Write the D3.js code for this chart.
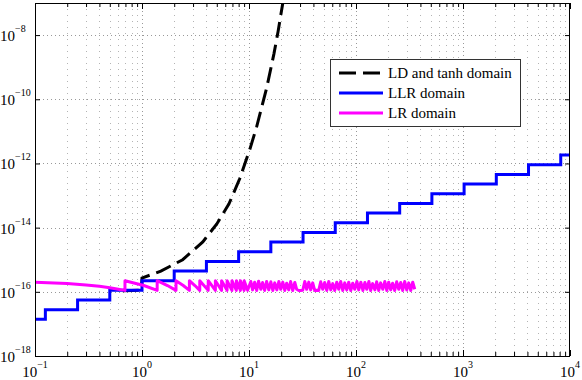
<!DOCTYPE html>
<html>
<head>
<meta charset="utf-8">
<script src="https://cdn.jsdelivr.net/npm/d3@7"></script>
<style>
  body { margin: 0; background: #fff; }
  text { font-family: "Liberation Serif", "DejaVu Serif", serif; }
</style>
</head>
<body>
<script>
// tick positions and their exponent labels
var xTicks = [0.1, 1, 10, 100, 1000, 10000];
var xTickExp = ["\u22121", "0", "1", "2", "3", "4"];
var yTicks = [1e-18, 1e-16, 1e-14, 1e-12, 1e-10, 1e-8];
var yTickExp = ["\u221218", "\u221216", "\u221214", "\u221212", "\u221210", "\u22128"];

var seriesNames = ["LD and tanh domain", "LLR domain", "LR domain"];

// LD and tanh domain (dashed black), [x, error]
var ldPoints = [
    [0.66, 1.08e-16], [0.8, 1.1e-16], [0.99, 1.14e-16], [1.0, 2.7e-16],
    [1.5, 4.4e-16], [2.4, 1.0e-15], [3.7, 3.6e-15], [5.0, 1.3e-14],
    [6.5, 5.5e-14], [8.2, 3.4e-13], [10.2, 2.8e-12], [11.8, 1.4e-11],
    [14.6, 2.2e-10], [17.1, 2.6e-9], [18.7, 1.3e-8], [20.8, 1.1e-7], [22, 4e-7]
];

// LLR domain (blue staircase): step starts and levels
var llrX = [0.1, 0.125, 0.25, 0.5, 1, 2, 4, 8, 16, 32, 64, 128, 256, 512, 1024, 2048, 4096, 8192, 10000];
var llrY = [1.39e-17, 2.78e-17, 5.55e-17, 1.11e-16, 2.22e-16, 4.44e-16, 8.88e-16, 1.78e-15, 3.55e-15,
            7.11e-15, 1.42e-14, 2.84e-14, 5.68e-14, 1.14e-13, 2.27e-13, 4.55e-13, 9.09e-13, 1.82e-12, 1.82e-12];

// LR domain (magenta sawtooth), [x, error]
var lrPoints = [
    [0.1, 2.0e-16], [0.2, 1.81e-16], [0.3, 1.64e-16], [0.4, 1.48e-16], [0.5, 1.34e-16], [0.6, 1.21e-16], [0.693, 1.11e-16],
    [0.693, 2.22e-16], [1.04, 1.57e-16], [1.386, 1.11e-16],
    [1.386, 2.22e-16], [1.73, 1.57e-16], [2.079, 1.11e-16],
    [2.079, 2.22e-16], [2.43, 1.57e-16], [2.773, 1.11e-16],
    [2.773, 2.22e-16], [3.12, 1.57e-16], [3.466, 1.11e-16],
    [3.466, 2.22e-16], [4.159, 1.11e-16],
    [4.159, 2.22e-16], [4.852, 1.11e-16],
    [4.852, 2.22e-16], [5.545, 1.11e-16],
    [5.545, 2.22e-16], [6.238, 1.11e-16],
    [6.238, 2.22e-16], [6.931, 1.11e-16],
    [6.931, 2.22e-16], [7.625, 1.11e-16],
    [7.625, 2.22e-16], [8.318, 1.11e-16],
    [8.318, 2.22e-16], [9.011, 1.11e-16],
    [9.011, 2.22e-16], [9.704, 1.11e-16],
    [10.4, 2.1e-16], [10.8, 1.15e-16], [11.3, 2.0e-16], [11.8, 1.1e-16], [12.3, 2.15e-16],
    [12.9, 1.2e-16], [13.4, 1.95e-16], [14.0, 1.1e-16], [14.6, 2.1e-16], [15.3, 1.15e-16],
    [16.0, 2.05e-16], [16.7, 1.1e-16], [17.4, 1.9e-16], [18.2, 1.15e-16], [19.0, 2.1e-16],
    [19.8, 1.2e-16], [20.7, 2.0e-16], [21.6, 1.1e-16], [22.5, 1.85e-16], [23.5, 1.15e-16],
    [24.5, 2.1e-16], [25.6, 1.1e-16], [26.8, 1.95e-16], [27.9, 1.2e-16], [29.2, 1.1e-16],
    [30.4, 1.1e-16], [31.8, 1.12e-16], [33.2, 2.1e-16], [34.6, 1.2e-16], [36.2, 2.0e-16],
    [37.7, 1.15e-16], [39.4, 1.9e-16], [41.1, 1.1e-16], [42.9, 1.12e-16], [44.8, 1.1e-16],
    [46.8, 2.05e-16], [48.9, 1.2e-16], [51.0, 1.95e-16], [53.3, 1.1e-16], [55.6, 2.1e-16],
    [58.1, 1.15e-16], [60.6, 1.8e-16], [63.3, 1.1e-16], [66.1, 2.0e-16], [69.0, 1.2e-16],
    [72.0, 2.1e-16], [75.2, 1.1e-16], [78.5, 1.9e-16], [81.9, 1.15e-16], [85.5, 2.0e-16],
    [89.3, 1.1e-16], [93.2, 1.85e-16], [97.3, 1.2e-16], [102, 2.1e-16], [106, 1.15e-16],
    [111, 2.0e-16], [116, 1.1e-16], [121, 1.95e-16], [126, 1.2e-16], [132, 2.1e-16],
    [137, 1.1e-16], [143, 1.8e-16], [150, 1.15e-16], [156, 2.05e-16], [163, 1.1e-16],
    [170, 1.9e-16], [178, 1.2e-16], [186, 2.1e-16], [194, 1.1e-16], [202, 2.0e-16],
    [211, 1.15e-16], [220, 1.85e-16], [230, 1.1e-16], [240, 2.05e-16], [251, 1.2e-16],
    [262, 1.95e-16], [273, 1.1e-16], [285, 2.1e-16], [298, 1.15e-16], [311, 1.9e-16],
    [325, 1.1e-16], [339, 2.0e-16], [354, 1.2e-16]
];

var colors = ["#000000", "#0000ff", "#ff00ff"];

var W = 582, H = 380;
var plotLeft = 35, plotRight = 570, plotTop = 3, plotBottom = 356;

var svg = d3.select("body")
    .append("svg")
    .attr("width", W)
    .attr("height", H);

var x = d3.scaleLog().domain([0.1, 10000]).range([plotLeft, plotRight]);
var y = d3.scaleLog().domain([1e-18, 1e-7]).range([plotBottom, plotTop]);

// minor x ticks (2..9 in every decade)
var xMinor = x.ticks().filter(function(v) { return xTicks.indexOf(v) < 0; });

// grid
var grid = svg.append("g");
grid.selectAll("line.vminor")
    .data(xMinor)
    .enter()
    .append("line")
    .attr("x1", function(d) { return Math.round(x(d)) + 0.5; })
    .attr("x2", function(d) { return Math.round(x(d)) + 0.5; })
    .attr("y1", plotTop)
    .attr("y2", plotBottom)
    .attr("stroke", "#b4b4b4")
    .attr("stroke-width", 1)
    .attr("stroke-dasharray", "1,5");
grid.selectAll("line.vmajor")
    .data(xTicks.slice(1, -1))
    .enter()
    .append("line")
    .attr("x1", function(d) { return Math.round(x(d)) + 0.5; })
    .attr("x2", function(d) { return Math.round(x(d)) + 0.5; })
    .attr("y1", plotTop)
    .attr("y2", plotBottom)
    .attr("stroke", "#999")
    .attr("stroke-width", 1)
    .attr("stroke-dasharray", "1,3");
grid.selectAll("line.hmajor")
    .data(yTicks.slice(1))
    .enter()
    .append("line")
    .attr("x1", plotLeft)
    .attr("x2", plotRight)
    .attr("y1", function(d) { return Math.round(y(d)) + 0.5; })
    .attr("y2", function(d) { return Math.round(y(d)) + 0.5; })
    .attr("stroke", "#999")
    .attr("stroke-width", 1)
    .attr("stroke-dasharray", "1,3");

// clip for the data lines
svg.append("clipPath")
    .attr("id", "plot")
    .append("rect")
    .attr("x", plotLeft)
    .attr("y", plotTop)
    .attr("width", plotRight - plotLeft)
    .attr("height", plotBottom - plotTop);

var plot = svg.append("g").attr("clip-path", "url(#plot)");

var line = d3.line()
    .x(function(d) { return x(d[0]); })
    .y(function(d) { return y(d[1]); });

plot.append("path")
    .attr("d", line(ldPoints))
    .attr("fill", "none")
    .attr("stroke", colors[0])
    .attr("stroke-width", 3)
    .attr("stroke-dasharray", "16,7");

var llrPoints = llrX.map(function(v, i) { return [v, llrY[i]]; });
plot.append("path")
    .attr("d", line.curve(d3.curveStepAfter)(llrPoints))
    .attr("fill", "none")
    .attr("stroke", colors[1])
    .attr("stroke-width", 3);
line.curve(d3.curveLinear);

plot.append("path")
    .attr("d", line(lrPoints))
    .attr("fill", "none")
    .attr("stroke", colors[2])
    .attr("stroke-width", 3)
    .attr("stroke-linejoin", "round");

// axes box with inward ticks
function drawAxis(axis, tx, ty) {
    var g = svg.append("g")
        .attr("transform", "translate(" + tx + "," + ty + ")")
        .call(axis);
    g.select(".domain").remove();
    g.selectAll("line").attr("stroke", "#000");
}
drawAxis(d3.axisBottom(x).tickValues(xTicks).tickSize(-6).tickFormat(""), 0, plotBottom);
drawAxis(d3.axisBottom(x).tickValues(xMinor).tickSize(-4).tickFormat(""), 0, plotBottom);
drawAxis(d3.axisTop(x).tickValues(xTicks).tickSize(-6).tickFormat(""), 0, plotTop);
drawAxis(d3.axisTop(x).tickValues(xMinor).tickSize(-4).tickFormat(""), 0, plotTop);
drawAxis(d3.axisLeft(y).tickValues(yTicks).tickSize(-5).tickFormat(""), plotLeft, 0);
drawAxis(d3.axisRight(y).tickValues(yTicks).tickSize(-5).tickFormat(""), plotRight, 0);

svg.append("rect")
    .attr("x", plotLeft + 0.5)
    .attr("y", plotTop + 0.5)
    .attr("width", plotRight - plotLeft - 1)
    .attr("height", plotBottom - plotTop)
    .attr("fill", "none")
    .attr("stroke", "#000")
    .attr("stroke-width", 1);

// tick labels as 10 with superscript
svg.selectAll("text.xlab")
    .data(xTicks)
    .enter()
    .append("text")
    .attr("x", function(d) { return x(d); })
    .attr("y", 377)
    .attr("text-anchor", "middle")
    .attr("font-size", "15px")
    .each(function(d, i) {
        var t = d3.select(this);
        t.append("tspan").text("10");
        t.append("tspan").attr("dy", -9).attr("font-size", "10px").text(xTickExp[i]);
    });

svg.selectAll("text.ylab")
    .data(yTicks)
    .enter()
    .append("text")
    .attr("x", 0)
    .attr("y", function(d) { return y(d) + 6; })
    .attr("font-size", "15px")
    .each(function(d, i) {
        var t = d3.select(this);
        t.append("tspan").text("10");
        t.append("tspan").attr("dy", -9).attr("font-size", "10px").text(yTickExp[i]);
    });

// legend
var legend = svg.append("g");
legend.append("rect")
    .attr("x", 330.5)
    .attr("y", 59.5)
    .attr("width", 190)
    .attr("height", 67)
    .attr("fill", "#fff")
    .attr("stroke", "#333")
    .attr("stroke-width", 1);

seriesNames.forEach(function(name, i) {
    var ry = 73 + i * 20;
    legend.append("line")
        .attr("x1", 339)
        .attr("x2", 383)
        .attr("y1", ry)
        .attr("y2", ry)
        .attr("stroke", colors[i])
        .attr("stroke-width", 3)
        .attr("stroke-dasharray", i === 0 ? "17,7" : null);
    legend.append("text")
        .attr("x", 388)
        .attr("y", ry + 5)
        .attr("font-size", "15px")
        .text(name);
});
</script>
</body>
</html>
